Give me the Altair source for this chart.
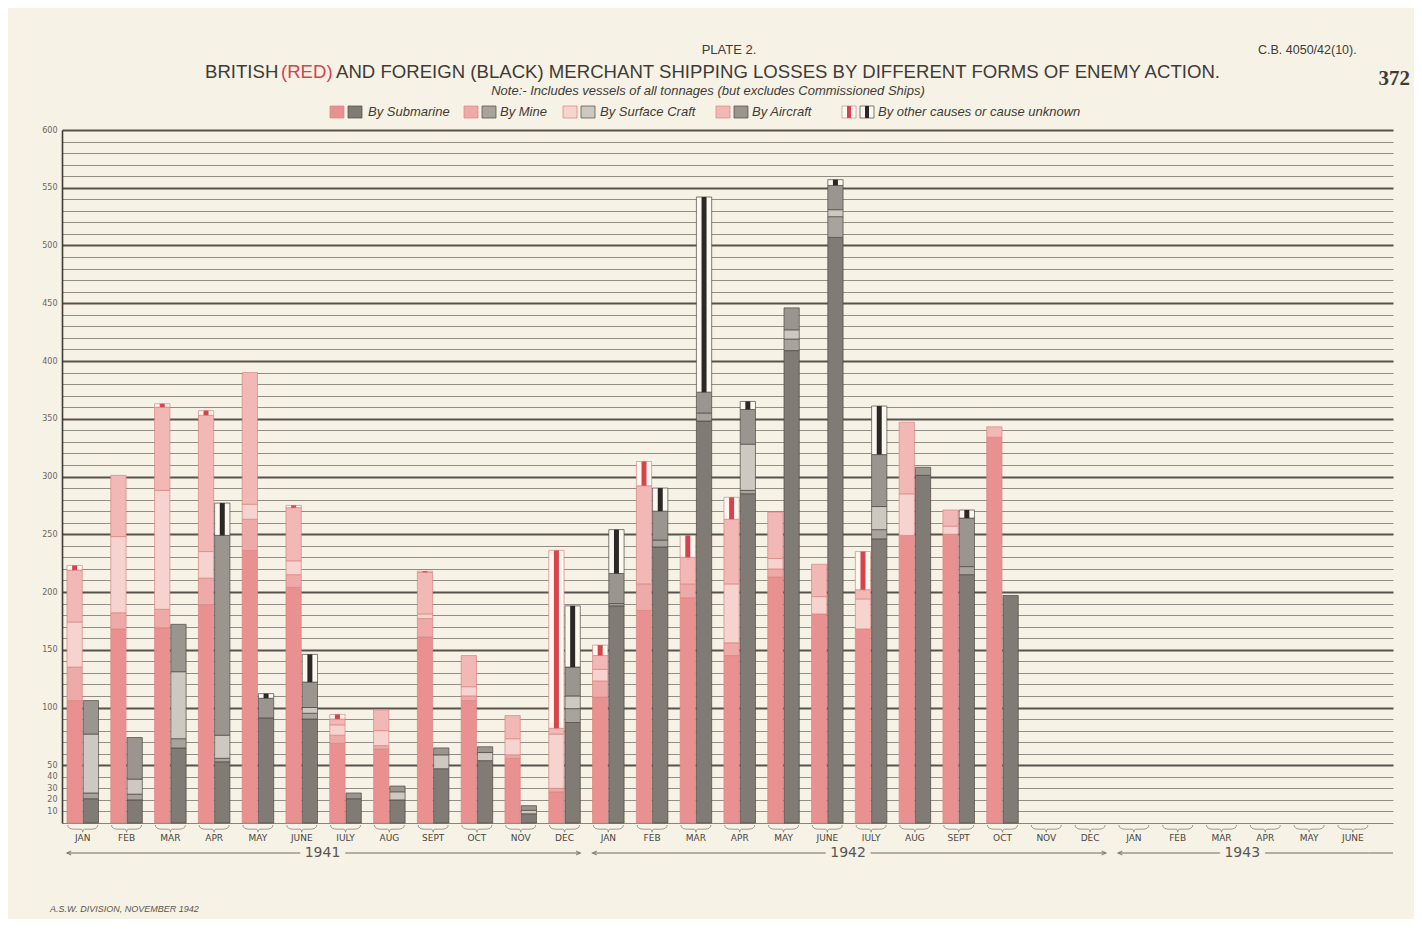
import altair as alt
import pandas as pd

# ---------------- data ----------------
MONTH_ABBR = ["JAN", "FEB", "MAR", "APR", "MAY", "JUNE", "JULY", "AUG", "SEPT", "OCT", "NOV", "DEC"]
months = ([f"{a} 1941" for a in MONTH_ABBR] + [f"{a} 1942" for a in MONTH_ABBR]
          + [f"{a} 1943" for a in MONTH_ABBR[:6]])

causes = ["Submarine", "Mine", "Surface Craft", "Aircraft", "Other"]

# British losses, Jan 1941 .. Oct 1942 (number of ships)
brit_submarine = [106, 168, 169, 189, 236, 204, 69, 64, 161, 106, 56, 27,
                  109, 184, 195, 145, 213, 181, 168, 249, 250, 334]
brit_mine      = [29, 14, 16, 23, 27, 11, 7, 3, 16, 4, 3, 3,
                  14, 23, 12, 11, 7, 0, 0, 0, 0, 0]
brit_surface   = [39, 66, 103, 23, 13, 12, 9, 13, 4, 8, 14, 47,
                  10, 0, 0, 51, 9, 15, 26, 36, 7, 0]
brit_aircraft  = [45, 53, 72, 118, 114, 46, 5, 18, 36, 27, 20, 5,
                  12, 85, 23, 56, 40, 28, 8, 62, 14, 9]
brit_other     = [4, 0, 3, 4, 0, 2, 4, 0, 1, 0, 0, 154,
                  9, 21, 19, 19, 0, 0, 33, 0, 0, 0]

# Foreign losses, Jan 1941 .. Oct 1942
for_submarine = [21, 20, 65, 53, 91, 90, 21, 20, 47, 54, 8, 87,
                 188, 239, 348, 285, 409, 507, 246, 301, 215, 197]
for_mine      = [5, 5, 8, 3, 0, 5, 0, 0, 0, 0, 0, 12,
                 2, 6, 7, 3, 10, 18, 8, 0, 7, 0]
for_surface   = [51, 13, 58, 20, 0, 5, 0, 7, 12, 7, 3, 11,
                 0, 0, 0, 40, 8, 6, 20, 0, 0, 0]
for_aircraft  = [29, 36, 41, 173, 17, 22, 5, 5, 6, 5, 4, 25,
                 26, 25, 18, 30, 19, 21, 45, 7, 42, 0]
for_other     = [0, 0, 0, 28, 4, 24, 0, 0, 0, 0, 0, 53,
                 38, 20, 169, 7, 0, 5, 42, 0, 7, 0]

series = {
    "British": [brit_submarine, brit_mine, brit_surface, brit_aircraft, brit_other],
    "Foreign": [for_submarine, for_mine, for_surface, for_aircraft, for_other],
}

years = ["1941", "1942", "1943"]
year_start = ["JAN 1941", "JAN 1942", "JAN 1943"]
year_end = ["DEC 1941", "DEC 1942", "JUNE 1943"]
year_mid = ["JUNE 1941", "JUNE 1942", "MAR 1943"]

legend_labels = ["By Submarine", "By Mine", "By Surface Craft", "By Aircraft",
                 "By other causes or cause unknown"]

# ---------------- styling ----------------
BG = "#f6f2e6"
INK = "#3f3b37"
RED = "#d8434b"
colors = {
    "British Submarine": "#e99190", "British Mine": "#eeaaa8",
    "British Surface Craft": "#f6d3ce", "British Aircraft": "#f2b8b5",
    "British Other": "#fbf8f0",
    "Foreign Submarine": "#807b75", "Foreign Mine": "#a8a39d",
    "Foreign Surface Craft": "#cdc8c0", "Foreign Aircraft": "#9a958f",
    "Foreign Other": "#fbf8f0",
}

rows = []
for nation, lists in series.items():
    for i in range(len(lists[0])):
        base = 0
        for cause, vals in zip(causes, lists):
            v = vals[i]
            if v > 0:
                rows.append(dict(month=months[i], nation=nation, cause=cause,
                                 key=f"{nation} {cause}", value=v, y0=base, y1=base + v))
            base += v
df = pd.DataFrame(rows)
df_other = df[df["cause"] == "Other"]

xscale = alt.Scale(domain=months, paddingInner=0.28, paddingOuter=0.335, align=0.17)
xoff = alt.XOffset("nation:N", scale=alt.Scale(domain=["British", "Foreign"],
                                                paddingInner=0.06, paddingOuter=0))
yscale = alt.Scale(domain=[0, 600], nice=False, zero=True)

yaxis = alt.Axis(
    values=list(range(10, 601, 10)),
    labelExpr="(datum.value <= 50 || datum.value % 50 === 0) ? datum.label : ''",
    grid=True, gridColor="#4f4943",
    gridWidth={"condition": {"test": "datum.value % 50 === 0", "value": 1.8}, "value": 0.8},
    gridOpacity={"condition": {"test": "datum.value % 50 === 0", "value": 0.95}, "value": 0.75},
    ticks=False, domainColor="#3f3a35", domainWidth=1.6,
    labelFontSize=8, labelColor="#6b655e", labelPadding=5, labelFont="DejaVu Sans",
    title=None,
)
xaxis = alt.Axis(
    labelExpr="split(datum.label, ' ')[0]", labelAngle=0, ticks=False,
    domainColor="#8a847c", domainWidth=1, labelFontSize=9, labelColor="#4a4540",
    labelFont="DejaVu Sans", labelPadding=10, title=None, grid=False,
)


def xenc(field, band=None):
    kw = dict(sort=months, scale=xscale, axis=xaxis, title=None)
    if band is not None:
        kw["bandPosition"] = band
    return alt.X(field, **kw)


stroke_cond = alt.condition("datum.nation == 'British'", alt.value("#d98582"), alt.value("#4d4944"))

bars = alt.Chart(df).mark_bar(strokeWidth=0.7).encode(
    x=xenc("month:N"),
    xOffset=xoff,
    y=alt.Y("y0:Q", scale=yscale, axis=yaxis, title=None),
    y2="y1:Q",
    color=alt.Color("key:N", scale=alt.Scale(domain=list(colors.keys()),
                                             range=list(colors.values())), legend=None),
    stroke=stroke_cond,
    tooltip=["month:N", "nation:N", "cause:N", "value:Q"],
)

stripes = alt.Chart(df_other).mark_bar(size=5).encode(
    x=xenc("month:N"),
    xOffset=xoff,
    y=alt.Y("y0:Q", scale=yscale, axis=yaxis, title=None),
    y2="y1:Q",
    color=alt.condition("datum.nation == 'British'", alt.value(RED), alt.value("#2b2826")),
)

# small braces under each month slot
mdf = pd.DataFrame({"month": months})
BRACE = ("M -1 -0.2 Q -1 0.08 -0.55 0.08 L -0.12 0.08 Q 0 0.08 0 0.28 "
         "Q 0 0.08 0.12 0.08 L 0.55 0.08 Q 1 0.08 1 -0.2")
braces = alt.Chart(mdf).mark_point(shape=BRACE, filled=False, stroke="#8a847c",
                                   strokeWidth=0.8, size=900, opacity=1).encode(
    x=xenc("month:N"),
    y=alt.value(698),
)

# year arrows under the axis
ydf = pd.DataFrame({"year": years, "start": year_start, "end": year_end, "mid": year_mid})
ARROW_Y = 723
ycol = "#6f6a63"
year_rules = alt.Chart(ydf).mark_rule(color=ycol, strokeWidth=1).encode(
    x=xenc("start:N", 0),
    x2=alt.X2("end:N", bandPosition=1),
    y=alt.value(ARROW_Y),
)
tail = alt.Chart(ydf[ydf["year"] == "1943"]).mark_rule(color=ycol, strokeWidth=1).encode(
    x=xenc("end:N", 1),
    x2=alt.value(1331),
    y=alt.value(ARROW_Y),
)
left_heads = alt.Chart(ydf).mark_point(shape="M 1 -0.45 L 0 0 L 1 0.45", filled=False,
                                       stroke=ycol, strokeWidth=1.2, size=70).encode(
    x=xenc("start:N", 0),
    y=alt.value(ARROW_Y),
)
right_heads = alt.Chart(ydf[ydf["year"] != "1943"]).mark_point(
    shape="M -1 -0.45 L 0 0 L -1 0.45", filled=False, stroke=ycol, strokeWidth=1.2, size=70).encode(
    x=xenc("end:N", 1),
    y=alt.value(ARROW_Y),
)
year_halo = alt.Chart(ydf).mark_text(fontSize=14, font="DejaVu Sans", fill=BG, stroke=BG,
                                     strokeWidth=12, dx=5).encode(
    x=xenc("mid:N", 1),
    y=alt.value(ARROW_Y), text="year:N",
)
year_text = alt.Chart(ydf).mark_text(fontSize=14, font="DejaVu Sans", color="#5a554f", dx=5).encode(
    x=xenc("mid:N", 1),
    y=alt.value(ARROW_Y), text="year:N",
)

# header text
one = pd.DataFrame({"a": [0]})


def label(text, x, y, **kw):
    return alt.Chart(one).mark_text(**kw).encode(x=alt.value(x), y=alt.value(y), text=alt.value(text))


TF = "Liberation Sans"
headers = [
    label("PLATE 2.", 667, -80, fontSize=13, font=TF, color=INK, align="center"),
    label("BRITISH", 143, -58, fontSize=18.6, font=TF, color=INK, align="left"),
    label("(RED)", 219, -58, fontSize=18.6, font=TF, color=RED, align="left"),
    label("AND FOREIGN (BLACK) MERCHANT SHIPPING LOSSES BY DIFFERENT FORMS OF ENEMY ACTION.",
          274, -58, fontSize=18.6, font=TF, color=INK, align="left"),
    label("Note:- Includes vessels of all tonnages (but excludes Commissioned Ships)", 646, -39,
          fontSize=13, font=TF, fontStyle="italic", color=INK, align="center"),
    label("C.B. 4050/42(10).", 1196, -80, fontSize=12.5, font=TF, color=INK, align="left"),
    label("372", 1348, -51, fontSize=21, font="Liberation Serif", fontWeight="bold",
          color=INK, align="right"),
    label("A.S.W. DIVISION, NOVEMBER 1942", -12, 779, fontSize=9, font=TF,
          fontStyle="italic", color="#5a554f", align="left"),
]

# custom legend
LY0, LY1 = -24, -12
leg_pos = [(268, 286, 306), (402, 420, 438), (501, 519, 538), (654, 672, 690), (780, 798, 816)]
legend_layers = []
for (px, gx, tx), cause, lab in zip(leg_pos, causes, legend_labels):
    pc = colors[f"British {cause}"]
    gc = colors[f"Foreign {cause}"]
    legend_layers.append(alt.Chart(one).mark_rect(fill=pc, stroke="#d98582", strokeWidth=0.7).encode(
        x=alt.value(px), x2=alt.value(px + 14), y=alt.value(LY0), y2=alt.value(LY1)))
    legend_layers.append(alt.Chart(one).mark_rect(fill=gc, stroke="#4d4944", strokeWidth=0.7).encode(
        x=alt.value(gx), x2=alt.value(gx + 14), y=alt.value(LY0), y2=alt.value(LY1)))
    if cause == "Other":
        legend_layers.append(alt.Chart(one).mark_rect(fill=RED).encode(
            x=alt.value(px + 5), x2=alt.value(px + 9), y=alt.value(LY0), y2=alt.value(LY1)))
        legend_layers.append(alt.Chart(one).mark_rect(fill="#2b2826").encode(
            x=alt.value(gx + 5), x2=alt.value(gx + 9), y=alt.value(LY0), y2=alt.value(LY1)))
    legend_layers.append(label(lab, tx, -18, fontSize=13, font=TF, fontStyle="italic",
                               color=INK, align="left", baseline="middle"))

chart = alt.layer(
    bars, stripes, braces, year_rules, tail, left_heads, right_heads, year_halo, year_text,
    *headers, *legend_layers,
).properties(
    width=1331, height=693,
    autosize=alt.AutoSizeParams(type="none"),
    padding={"left": 54, "top": 122, "right": 21, "bottom": 96},
    background=BG,
).configure_view(stroke=None)

chart.save("out.html", embed_options={"renderer": "svg", "actions": False})
